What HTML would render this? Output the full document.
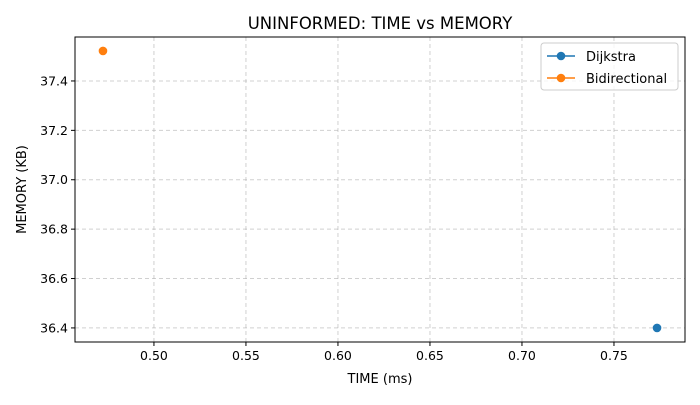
<!DOCTYPE html>
<html><head><meta charset="utf-8"><style>
body{margin:0;background:#fff}
svg{font-family:"DejaVu Sans","Liberation Sans",sans-serif}
</style></head><body>
<svg id="chart" width="700" height="400" xmlns="http://www.w3.org/2000/svg">
<rect width="700" height="400" fill="#fff"/>
<text x="380" y="29" text-anchor="middle" font-size="16.5">UNINFORMED: TIME vs MEMORY</text>
<g id="grid"></g>
<g id="ticks"></g>
<g id="marks"></g>
<rect x="75" y="37" width="610" height="305" fill="none" stroke="#000" stroke-width="1"/>
<text x="380" y="383" text-anchor="middle" font-size="13">TIME (ms)</text>
<text x="26" y="189.5" text-anchor="middle" font-size="13" transform="rotate(-90 26 189.5)">MEMORY (KB)</text>
<g>
<rect x="541" y="43" width="137" height="47" rx="3" fill="#fff" fill-opacity="0.8" stroke="#ccc"/>
<g>
<line x1="547" y1="56" x2="575" y2="56" stroke="#1f77b4" stroke-width="1.5"/>
<circle cx="561" cy="56" r="4.3" fill="#1f77b4"/>
<text x="586" y="61" font-size="13">Dijkstra</text></g>
<g>
<line x1="547" y1="78" x2="575" y2="78" stroke="#ff7f0e" stroke-width="1.5"/>
<circle cx="561" cy="78" r="4.3" fill="#ff7f0e"/>
<text x="586" y="83" font-size="13">Bidirectional</text></g>
</g>
</svg>
<script>
const seriesNames = ["Dijkstra", "Bidirectional"];
const seriesColors = ["#1f77b4", "#ff7f0e"];
const timeValues = [0.7734, 0.4723];
const memoryValues = [36.40, 37.5215];
const xTicks = [0.50, 0.55, 0.60, 0.65, 0.70, 0.75];
const yTicks = [36.4, 36.6, 36.8, 37.0, 37.2, 37.4];

const L=75,R=685,T=37,B=342;
const xmin=0.4571,xmax=0.7886,ymin=36.343,ymax=37.578;
const xs=v=>L+(v-xmin)/(xmax-xmin)*(R-L);
const ys=v=>B-(v-ymin)/(ymax-ymin)*(B-T);
const NS="http://www.w3.org/2000/svg";
function mk(tag,attrs,parent,txt){const e=document.createElementNS(NS,tag);for(const k in attrs)e.setAttribute(k,attrs[k]);if(txt!==undefined)e.textContent=txt;parent.appendChild(e);return e;}
const grid=document.getElementById('grid'),ticks=document.getElementById('ticks'),marks=document.getElementById('marks');
xTicks.forEach(t=>{const x=xs(t);
 const g=mk('line',{x1:x,x2:x,y1:T,y2:B,stroke:'#b0b0b0','stroke-dasharray':'4,3','stroke-opacity':0.6},grid);
 
 
 mk('line',{x1:x,x2:x,y1:B,y2:B+4,stroke:'#000'},ticks);
 const tl=mk('text',{x:x,y:B+18,'text-anchor':'middle','font-size':12.5},ticks,t.toFixed(2));
 
 
});
yTicks.forEach(t=>{const y=ys(t);
 const g=mk('line',{x1:L,x2:R,y1:y,y2:y,stroke:'#b0b0b0','stroke-dasharray':'4,3','stroke-opacity':0.6},grid);
 
 
 mk('line',{x1:L-4,x2:L,y1:y,y2:y,stroke:'#000'},ticks);
 const tl=mk('text',{x:L-7,y:y+4.5,'text-anchor':'end','font-size':12.5},ticks,t.toFixed(1));
 
 
});
seriesNames.forEach((n,i)=>{
 const c=mk('circle',{cx:xs(timeValues[i]),cy:ys(memoryValues[i]),r:4.3,fill:seriesColors[i]},marks);
 
 
});
</script>
</body></html>
